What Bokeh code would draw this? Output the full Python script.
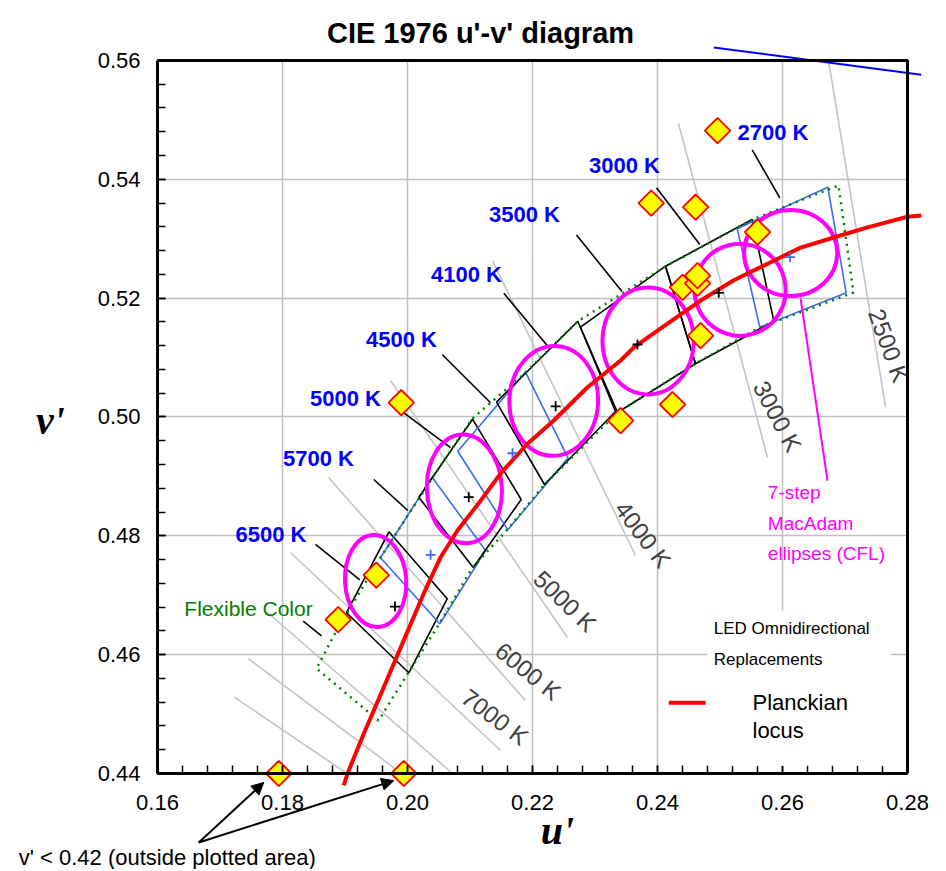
import math
from bokeh.plotting import figure
from bokeh.models import (Range1d, Label, Arrow, NormalHead, BoxAnnotation,
                          SingleIntervalTicker, PrintfTickFormatter, ColumnDataSource)
from bokeh.core.properties import value
from bokeh.embed import file_html
from bokeh.resources import INLINE

# ---------------- data (u', v') ----------------
locus_u = [0.1898, 0.1904, 0.1930, 0.1962, 0.1994, 0.2026, 0.2053, 0.2080, 0.2117, 0.2149,
           0.2192, 0.2234, 0.2288, 0.2341, 0.2362, 0.2416, 0.2469, 0.2522, 0.2586, 0.2629,
           0.2682, 0.2736, 0.2800, 0.2822]
locus_v = [0.4380, 0.4400, 0.4467, 0.4545, 0.4624, 0.4703, 0.4764, 0.4809, 0.4859, 0.4905,
           0.4955, 0.4994, 0.5050, 0.5095, 0.5117, 0.5157, 0.5196, 0.5230, 0.5263, 0.5285,
           0.5302, 0.5319, 0.5337, 0.5339]

# ANSI quadrangles
quad_cct = ["6500 K", "5700 K", "5000 K", "4500 K", "4000 K", "3500 K", "3000 K", "2700 K"]
quad_u = [[0.19704, 0.20635, 0.20021, 0.19024],
          [0.20395, 0.21248, 0.20517, 0.19568],
          [0.21040, 0.21819, 0.21051, 0.20181],
          [0.21888, 0.22568, 0.21605, 0.20805],
          [0.22725, 0.23328, 0.22192, 0.21424],
          [0.22768, 0.24128, 0.24608, 0.23360],
          [0.24128, 0.25515, 0.25861, 0.24608],
          [0.25275, 0.26725, 0.27019, 0.25637]]
quad_v = [[0.48068, 0.46940, 0.45695, 0.46706],
          [0.48987, 0.47753, 0.46519, 0.47630],
          [0.49963, 0.48611, 0.47467, 0.48650],
          [0.50754, 0.49310, 0.48101, 0.49424],
          [0.51612, 0.50092, 0.48864, 0.50249],
          [0.51511, 0.52538, 0.50895, 0.50075],
          [0.52538, 0.53323, 0.51612, 0.50895],
          [0.53167, 0.53867, 0.52090, 0.51511]]
center_u = [0.1980, 0.2037, 0.2098, 0.2168, 0.2237, 0.2368, 0.2498, 0.2612]
center_v = [0.4681, 0.4768, 0.4865, 0.4939, 0.5018, 0.5122, 0.5209, 0.5269]

# CCT labels and their leader lines
label_text = ["2700 K", "3000 K", "3500 K", "4100 K", "4500 K", "5000 K", "5700 K", "6500 K"]
label_u = [0.25848, 0.23472, 0.21872, 0.20944, 0.19904, 0.19008, 0.18576, 0.17816]
label_v = [0.54793, 0.54227, 0.53408, 0.52398, 0.51304, 0.50319, 0.49301, 0.48022]
leader_u0 = [0.25515, 0.23984, 0.22704, 0.21541, 0.20555, 0.19861, 0.19461, 0.18528, 0.18331]
leader_v0 = [0.54496, 0.53857, 0.53063, 0.52083, 0.51051, 0.50131, 0.48948, 0.47854, 0.46563]
leader_u1 = [0.25957, 0.24677, 0.23432, 0.22235, 0.21328, 0.20688, 0.20005, 0.19237, 0.18624]
leader_v1 = [0.53689, 0.52903, 0.52112, 0.51203, 0.50239, 0.49486, 0.48426, 0.47260, 0.46317]

# Flexible Color region
flex_u = [0.18864, 0.19040, 0.19568, 0.20400, 0.21040, 0.21888, 0.22720, 0.24128, 0.25520,
          0.26896, 0.27136, 0.25632, 0.24608, 0.23360, 0.22192, 0.21600, 0.21040, 0.20512,
          0.20016, 0.19536, 0.18544, 0.18864]
flex_v = [0.46407, 0.46710, 0.47635, 0.48981, 0.49974, 0.50749, 0.51607, 0.52533, 0.53324,
          0.53896, 0.52095, 0.51506, 0.50900, 0.50075, 0.48864, 0.48106, 0.47467, 0.46524,
          0.45700, 0.44892, 0.45767, 0.46407]

# 7-step MacAdam ellipses (CFL)
ell_u = [0.1949, 0.2091, 0.2234, 0.2385, 0.2532, 0.2613]
ell_v = [0.4724, 0.4879, 0.5027, 0.5128, 0.5214, 0.5276]
ell_w = [0.0098, 0.0120, 0.0142, 0.0146, 0.0146, 0.0149]
ell_h = [0.0155, 0.0183, 0.0185, 0.0180, 0.0155, 0.0145]
ell_angle = [0.06, 0.05, -0.04, 0.0, 0.25, 0.0]
ell_pointer_u = [0.2629, 0.2672]
ell_pointer_v = [0.5199, 0.4893]

# LED omnidirectional replacements
led_u = [0.1794, 0.1994, 0.1990, 0.1950, 0.1889, 0.2341, 0.2424, 0.2469, 0.2440, 0.2464,
         0.2464, 0.2560, 0.2390, 0.2461, 0.2496]
led_v = [0.4400, 0.4400, 0.5024, 0.4734, 0.4659, 0.4994, 0.5021, 0.5137, 0.5218, 0.5225,
         0.5238, 0.5311, 0.5360, 0.5353, 0.5482]

# isotherms: 2500, 3000, 4000, 5000, 6000, 7000, 8000, 9000, 10000 K
iso_u0 = [0.26736, 0.24336, 0.21360, 0.19728, 0.18736, 0.18128, 0.17744, 0.17451, 0.17229]
iso_v0 = [0.56000, 0.54939, 0.52633, 0.50614, 0.48981, 0.47719, 0.46726, 0.45932, 0.45284]
iso_u1 = [0.27648, 0.25760, 0.23648, 0.22560, 0.21888, 0.21488, 0.20720, 0.19906, 0.19032]
iso_v1 = [0.50176, 0.49318, 0.47669, 0.46289, 0.45229, 0.44387, 0.44000, 0.44000, 0.44000]
iso_text = ["2500 K", "3000 K", "4000 K", "5000 K", "6000 K", "7000 K"]
iso_lab_u = [0.2770, 0.2592, 0.2377, 0.2252, 0.2193, 0.2140]
iso_lab_v = [0.5120, 0.5001, 0.4802, 0.4690, 0.4572, 0.4495]
iso_lab_deg = [-70, -62, -53, -44, -39, -37]

# line at top of chart
blue_u = [0.2490, 0.2822]
blue_v = [0.5622, 0.5576]

# off-chart pointers: v' < 0.42
off_from = (0.1666, 0.4284)
off_to_u = [0.1770, 0.1978]
off_to_v = [0.4385, 0.4388]

grid_u = [0.18, 0.20, 0.22, 0.24, 0.26]
grid_v = [0.46, 0.48, 0.50, 0.52, 0.54]

# ---------------- figure ----------------
SANS = "Liberation Sans"
W, H = 944, 869
PXU, PXV = 6250.0, 5942.0        # pixels per unit of u' and v'
X0, Y0 = 157.0, 773.0            # canvas position of (0.16, 0.44)

p = figure(width=W, height=H, output_backend="svg", toolbar_location=None,
           x_range=Range1d(0.16 - X0 / PXU, 0.16 + (W - X0) / PXU),
           y_range=Range1d(0.44 - (H - Y0) / PXV, 0.44 + Y0 / PXV),
           min_border=0)
p.outline_line_color = None
p.background_fill_color = "white"
p.border_fill_color = "white"

p.xaxis.ticker = SingleIntervalTicker(interval=0.02, num_minor_ticks=5)
p.yaxis.ticker = SingleIntervalTicker(interval=0.02, num_minor_ticks=5)
p.xaxis.bounds = (0.16, 0.28)
p.yaxis.bounds = (0.44, 0.56)
p.xaxis.fixed_location = 0.44
p.yaxis.fixed_location = 0.16
for ax in (p.xaxis[0], p.yaxis[0]):
    ax.formatter = PrintfTickFormatter(format="%.2f")
    ax.axis_line_width = 3
    ax.axis_line_color = "black"
    ax.major_tick_in = 8
    ax.major_tick_out = 0
    ax.minor_tick_in = 8
    ax.minor_tick_out = 0
    ax.major_tick_line_width = 1.5
    ax.minor_tick_line_width = 1.5
    ax.major_tick_line_color = "black"
    ax.minor_tick_line_color = "black"
    ax.major_label_text_font = SANS
    ax.major_label_text_font_size = "22px"
    ax.major_label_text_color = "black"
p.xaxis.major_label_standoff = 21
p.yaxis.major_label_standoff = 17

grid_done = False
try:
    p.xgrid.cross_bounds = (0.44, 0.56)
    p.ygrid.cross_bounds = (0.16, 0.28)
    grid_done = True
except Exception:
    grid_done = False
if grid_done:
    p.xgrid.bounds = (0.17, 0.27)
    p.ygrid.bounds = (0.45, 0.55)
    for g in (p.xgrid[0], p.ygrid[0]):
        g.grid_line_color = "#c0c0c0"
        g.grid_line_width = 1.5
else:
    p.xgrid.visible = False
    p.ygrid.visible = False
    p.segment(x0=grid_u, y0=[0.44] * len(grid_u), x1=grid_u, y1=[0.56] * len(grid_u),
              line_color="#c0c0c0", line_width=1.5, level="underlay")
    p.segment(x0=[0.16] * len(grid_v), y0=grid_v, x1=[0.28] * len(grid_v), y1=grid_v,
              line_color="#c0c0c0", line_width=1.5, level="underlay")

# isotherm lines
p.segment(x0=iso_u0, y0=iso_v0, x1=iso_u1, y1=iso_v1, line_color="#c4c4c4", line_width=1.6)
iso_src = ColumnDataSource(dict(x=iso_lab_u, y=iso_lab_v, t=iso_text,
                                a=[math.radians(d) for d in iso_lab_deg]))
p.text(x="x", y="y", text="t", angle="a", source=iso_src, text_font=value(SANS),
       text_font_size="24px", text_color="#404040", text_align="center", text_baseline="middle")

# leader lines
p.segment(x0=leader_u0, y0=leader_v0, x1=leader_u1, y1=leader_v1, line_color="black", line_width=1.6)

# quadrangles
quad_colors = ["black", "#3b6cf0", "black", "#3b6cf0", "black", "black", "black", "#3b6cf0"]
p.patches(xs=quad_u, ys=quad_v, fill_color=None, line_color=quad_colors, line_width=1.6)

# flexible colour region
p.line(flex_u, flex_v, line_color="#008000", line_width=2.5, line_dash="2 5")

# ellipses
p.ellipse(x=ell_u, y=ell_v, width=ell_w, height=ell_h, angle=ell_angle,
          fill_color=None, line_color="#ff00ff", line_width=4)
p.line(ell_pointer_u, ell_pointer_v, line_color="#ff00ff", line_width=2)

# Planckian locus
p.line(locus_u, locus_v, line_color="#ff0000", line_width=4)

# quadrangle centres
p.scatter(center_u, center_v, marker="cross", size=10, line_width=1.8, line_color=quad_colors)

# blue line on top
p.line(blue_u, blue_v, line_color="#0000ff", line_width=2)

# frame top/right border
p.line([0.16, 0.28, 0.28], [0.56, 0.56, 0.44], line_color="black", line_width=3)

# LED data
p.scatter(led_u, led_v, marker="square", angle=math.pi / 4, size=18,
          fill_color="#ffff00", line_color="#ff0000", line_width=1.8)

# CCT labels
cct_src = ColumnDataSource(dict(x=label_u, y=label_v, t=label_text))
p.text(x="x", y="y", text="t", source=cct_src, text_font=value(SANS), text_font_style="bold",
       text_font_size="22px", text_color="#0000ff", text_align="center", text_baseline="middle")

# legend box
p.add_layout(BoxAnnotation(left=0.2480, right=0.2773, bottom=0.4413, top=0.4674,
                           fill_color="white", fill_alpha=1.0, line_color=None))
p.line([0.2418, 0.2477], [0.4519, 0.4519], line_color="#ff0000", line_width=4)


def lab(text, x, y, size, color="black", font=SANS, style="normal", align="left",
        baseline="middle", angle=0.0):
    p.add_layout(Label(x=x, y=y, text=text, text_font=font, text_font_size=size,
                       text_color=color, text_font_style=style, text_align=align,
                       text_baseline=baseline, angle=angle))


lab("LED Omnidirectional", 0.2490, 0.4644, "17px")
lab("Replacements", 0.2490, 0.4592, "17px")
lab("Planckian", 0.2552, 0.4520, "22px")
lab("locus", 0.2552, 0.4472, "22px")
lab("7-step", 0.25765, 0.48734, "19px", color="#ff00ff")
lab("MacAdam", 0.25765, 0.48212, "19px", color="#ff00ff")
lab("ellipses (CFL)", 0.25765, 0.47697, "19px", color="#ff00ff")
lab("Flexible Color", 0.17456, 0.46777, "21px", color="#008000", align="center")

# title and axis names
lab("CIE 1976 u'-v' diagram", 0.21168, 0.56454, "29px", style="bold", align="center",
    baseline="alphabetic")
lab("u'", 0.2240, 0.4304, "40px", font="Liberation Serif", style="bold italic", align="center")
lab("v'", 0.14288, 0.4994, "40px", font="Liberation Serif", style="bold italic", align="center")

# off-chart note
lab("v' < 0.42 (outside plotted area)", 0.1378, 0.4259, "22px")
for tu, tv in zip(off_to_u, off_to_v):
    p.add_layout(Arrow(end=NormalHead(size=12, fill_color="black", line_color="black"),
                       x_start=off_from[0], y_start=off_from[1], x_end=tu, y_end=tv,
                       line_color="black", line_width=2))

open("out.html", "w").write(file_html(p, INLINE))
